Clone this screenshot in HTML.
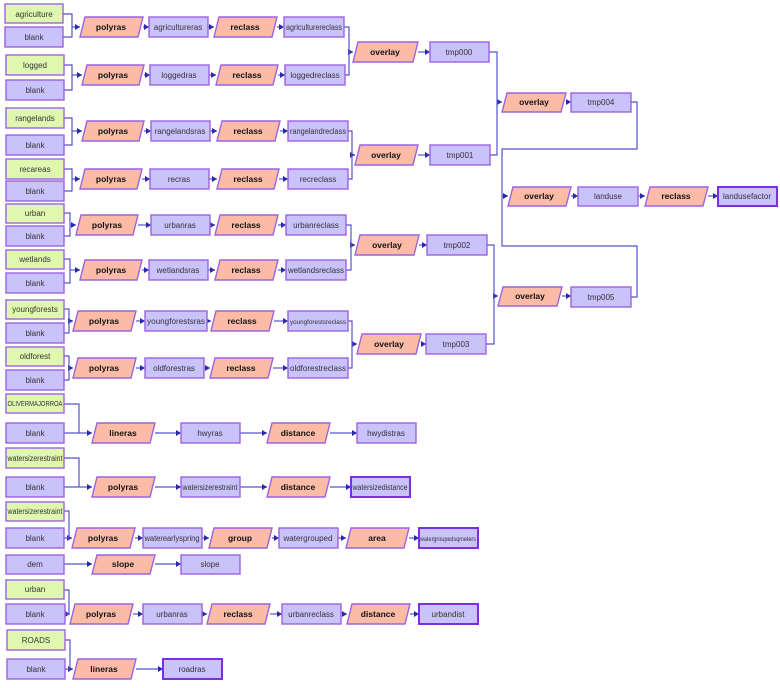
<!DOCTYPE html>
<html><head><meta charset="utf-8"><style>
html,body{margin:0;padding:0;background:#fff;width:780px;height:688px;overflow:hidden}
svg{display:block}
.g{fill:#e0f7b0;stroke:#9b63e0;stroke-width:1.4}
.d{fill:#c9c2fb;stroke:#9b63e0;stroke-width:1.4}
.o{fill:#c9c2fb;stroke:#7a2fe0;stroke-width:2}
.t{fill:#fbbba6;stroke:#9b63e0;stroke-width:1.4}
.l{fill:none;stroke:#5555c8;stroke-width:1.2}
text{font-family:"Liberation Sans",sans-serif;font-size:8px;fill:#333;text-anchor:middle}
text.b{font-weight:bold;font-size:8.5px;fill:#111}
</style></head><body>
<svg width="780" height="688" viewBox="0 0 780 688" xmlns="http://www.w3.org/2000/svg">
<defs><marker id="a" markerWidth="6" markerHeight="6" refX="5" refY="3" orient="auto" markerUnits="userSpaceOnUse"><path d="M0,0 L5,3 L0,6 z" fill="#2a2aa8"/></marker></defs>
<g class="l" marker-end="url(#a)" style="fill:none;stroke:#5555c8;stroke-width:1.2">
<!-- row1 -->
<path d="M72 27 H80"/><path d="M143 27 H149"/><path d="M208 27 H214"/><path d="M277 27 H284"/>
<path d="M72 75 H82"/><path d="M144 75 H150"/><path d="M209 75 H216"/><path d="M278 75 H285"/>
<path d="M72 131 H82"/><path d="M144 131 H151"/><path d="M210 131 H217"/><path d="M280 131 H288"/>
<path d="M72 179 H80"/><path d="M142 179 H150"/><path d="M209 179 H217"/><path d="M279 179 H288"/>
<path d="M70 225 H76"/><path d="M138 225 H151"/><path d="M210 225 H215"/><path d="M278 225 H286"/>
<path d="M70 270 H80"/><path d="M142 270 H149"/><path d="M208 270 H215"/><path d="M278 270 H286"/>
<path d="M69 321 H73"/><path d="M136 321 H145"/><path d="M209 321 H211"/><path d="M274 321 H288"/>
<path d="M69 368 H73"/><path d="M136 368 H145"/><path d="M204 368 H210"/><path d="M273 368 H288"/>
<path d="M349 52 H353"/><path d="M418 52 H430"/>
<path d="M352 155 H355"/><path d="M418 155 H430"/>
<path d="M351 245 H355"/><path d="M419 245 H427"/>
<path d="M352 344 H357"/><path d="M421 344 H426"/>
<path d="M497 102 H502"/><path d="M566 102 H571"/>
<path d="M494 296 H498"/><path d="M562 296 H571"/>
<path d="M502 196 H508"/><path d="M571 196 H578"/><path d="M638 196 H645"/><path d="M708 196 H718"/>
<!-- bottom -->
<path d="M64 433 H92"/><path d="M155 433 H181"/><path d="M240 433 H267"/><path d="M330 433 H357"/>
<path d="M64 487 H92"/><path d="M155 487 H181"/><path d="M240 487 H267"/><path d="M330 487 H351"/>
<path d="M69 538 H72"/><path d="M135 538 H143"/><path d="M202 538 H209"/><path d="M272 538 H279"/><path d="M338 538 H346"/><path d="M409 538 H419"/>
<path d="M64 564 H92"/><path d="M155 564 H181"/>
<path d="M69 614 H70"/><path d="M133 614 H143"/><path d="M202 614 H207"/><path d="M270 614 H282"/><path d="M341 614 H347"/><path d="M410 614 H419"/>
<path d="M70 669 H73"/><path d="M136 669 H163"/>
</g>
<g style="fill:none;stroke:#5555c8;stroke-width:1.2">
<path d="M63 14 H72 V37 H63"/>
<path d="M63 65 H72 V90 H63"/>
<path d="M63 118 H72 V145 H63"/>
<path d="M63 169 H72 V191 H63"/>
<path d="M63 213 H70 V236 H63"/>
<path d="M63 259 H70 V283 H63"/>
<path d="M63 309 H69 V333 H63"/>
<path d="M63 356 H69 V380 H63"/>
<path d="M344 27 H349 V75 H345"/>
<path d="M348 131 H352 V179 H348"/>
<path d="M346 225 H351 V270 H346"/>
<path d="M348 321 H352 V368 H348"/>
<path d="M489 52 H497 V155 H490"/>
<path d="M487 245 H494 V344 H486"/>
<path d="M631 102 H637 V149 H502 V246 H637 V297 H631"/>
<path d="M64 404 H79 V433"/>
<path d="M64 458 H79 V487"/>
<path d="M64 511 H69 V538 H64"/>
<path d="M64 590 H69 V614 H64"/>
<path d="M65 640 H70 V669 H65"/>
</g>

<!-- input boxes -->
<rect class="g" x="5" y="4" width="58" height="19"/><text x="34" y="17">agriculture</text>
<rect class="d" x="5" y="27" width="58" height="20"/><text x="34" y="40">blank</text>
<rect class="g" x="6" y="55" width="58" height="20"/><text x="35" y="68">logged</text>
<rect class="d" x="6" y="80" width="58" height="20"/><text x="35" y="93">blank</text>
<rect class="g" x="6" y="108" width="58" height="20"/><text x="35" y="121">rangelands</text>
<rect class="d" x="6" y="135" width="58" height="20"/><text x="35" y="148">blank</text>
<rect class="g" x="6" y="159" width="58" height="20"/><text x="35" y="172">recareas</text>
<rect class="d" x="6" y="181" width="58" height="20"/><text x="35" y="194">blank</text>
<rect class="g" x="6" y="204" width="58" height="19"/><text x="35" y="216">urban</text>
<rect class="d" x="6" y="226" width="58" height="20"/><text x="35" y="239">blank</text>
<rect class="g" x="6" y="250" width="58" height="19"/><text x="35" y="262">wetlands</text>
<rect class="d" x="6" y="273" width="58" height="20"/><text x="35" y="286">blank</text>
<rect class="g" x="6" y="300" width="58" height="19"/><text x="35" y="312">youngforests</text>
<rect class="d" x="6" y="323" width="58" height="20"/><text x="35" y="336">blank</text>
<rect class="g" x="6" y="347" width="58" height="19"/><text x="35" y="359">oldforest</text>
<rect class="d" x="6" y="370" width="58" height="20"/><text x="35" y="383">blank</text>

<!-- chains -->
<g>
<polygon class="t" points="85,17 143,17 138,37 80,37"/><text class="b" x="111" y="30">polyras</text>
<rect class="d" x="149" y="17" width="59" height="20"/><text x="178" y="30">agricultureras</text>
<polygon class="t" points="219,17 277,17 272,37 214,37"/><text class="b" x="245" y="30">reclass</text>
<rect class="d" x="284" y="17" width="60" height="20"/><text x="314" y="30" textLength="56" lengthAdjust="spacingAndGlyphs">agriculturereclass</text>

<polygon class="t" points="87,65 144,65 139,85 82,85"/><text class="b" x="113" y="78">polyras</text>
<rect class="d" x="150" y="65" width="59" height="20"/><text x="179" y="78">loggedras</text>
<polygon class="t" points="221,65 278,65 273,85 216,85"/><text class="b" x="247" y="78">reclass</text>
<rect class="d" x="285" y="65" width="60" height="20"/><text x="315" y="78">loggedreclass</text>

<polygon class="t" points="87,121 144,121 139,141 82,141"/><text class="b" x="113" y="134">polyras</text>
<rect class="d" x="151" y="121" width="59" height="20"/><text x="180" y="134">rangelandsras</text>
<polygon class="t" points="222,121 280,121 275,141 217,141"/><text class="b" x="248" y="134">reclass</text>
<rect class="d" x="288" y="121" width="60" height="20"/><text x="318" y="134" textLength="56" lengthAdjust="spacingAndGlyphs">rangelandreclass</text>

<polygon class="t" points="85,169 142,169 137,189 80,189"/><text class="b" x="111" y="182">polyras</text>
<rect class="d" x="150" y="169" width="59" height="20"/><text x="179" y="182">recras</text>
<polygon class="t" points="222,169 279,169 274,189 217,189"/><text class="b" x="248" y="182">reclass</text>
<rect class="d" x="288" y="169" width="60" height="20"/><text x="318" y="182">recreclass</text>

<polygon class="t" points="81,215 138,215 133,235 76,235"/><text class="b" x="107" y="228">polyras</text>
<rect class="d" x="151" y="215" width="59" height="20"/><text x="180" y="228">urbanras</text>
<polygon class="t" points="220,215 278,215 273,235 215,235"/><text class="b" x="246" y="228">reclass</text>
<rect class="d" x="286" y="215" width="60" height="20"/><text x="316" y="228">urbanreclass</text>

<polygon class="t" points="85,260 142,260 137,280 80,280"/><text class="b" x="111" y="273">polyras</text>
<rect class="d" x="149" y="260" width="59" height="20"/><text x="178" y="273">wetlandsras</text>
<polygon class="t" points="220,260 278,260 273,280 215,280"/><text class="b" x="246" y="273">reclass</text>
<rect class="d" x="286" y="260" width="60" height="20"/><text x="316" y="273" textLength="56" lengthAdjust="spacingAndGlyphs">wetlandsreclass</text>

<polygon class="t" points="78,311 136,311 131,331 73,331"/><text class="b" x="104" y="324">polyras</text>
<rect class="d" x="145" y="311" width="62" height="20"/><text x="176" y="324" textLength="58" lengthAdjust="spacingAndGlyphs">youngforestsras</text>
<polygon class="t" points="216,311 274,311 269,331 211,331"/><text class="b" x="242" y="324">reclass</text>
<rect class="d" x="288" y="311" width="60" height="20"/><text x="318" y="324" style="font-size:6.5px" textLength="56" lengthAdjust="spacingAndGlyphs">youngforestsreclass</text>

<polygon class="t" points="78,358 136,358 131,378 73,378"/><text class="b" x="104" y="371">polyras</text>
<rect class="d" x="145" y="358" width="59" height="20"/><text x="174" y="371">oldforestras</text>
<polygon class="t" points="215,358 273,358 268,378 210,378"/><text class="b" x="241" y="371">reclass</text>
<rect class="d" x="288" y="358" width="60" height="20"/><text x="318" y="371" textLength="56" lengthAdjust="spacingAndGlyphs">oldforestreclass</text>

<!-- overlays -->
<polygon class="t" points="358,42 418,42 413,62 353,62"/><text class="b" x="385" y="55">overlay</text>
<rect class="d" x="430" y="42" width="59" height="20"/><text x="459" y="55">tmp000</text>
<polygon class="t" points="360,145 418,145 413,165 355,165"/><text class="b" x="386" y="158">overlay</text>
<rect class="d" x="430" y="145" width="60" height="20"/><text x="460" y="158">tmp001</text>
<polygon class="t" points="360,235 419,235 414,255 355,255"/><text class="b" x="387" y="248">overlay</text>
<rect class="d" x="427" y="235" width="60" height="20"/><text x="457" y="248">tmp002</text>
<polygon class="t" points="362,334 421,334 416,354 357,354"/><text class="b" x="389" y="347">overlay</text>
<rect class="d" x="426" y="334" width="60" height="20"/><text x="456" y="347">tmp003</text>
<polygon class="t" points="507,93 566,93 561,112 502,112"/><text class="b" x="534" y="105">overlay</text>
<rect class="d" x="571" y="93" width="60" height="19"/><text x="601" y="105">tmp004</text>
<polygon class="t" points="503,287 562,287 557,306 498,306"/><text class="b" x="530" y="299">overlay</text>
<rect class="d" x="571" y="287" width="60" height="20"/><text x="601" y="300">tmp005</text>
<polygon class="t" points="513,187 571,187 566,206 508,206"/><text class="b" x="539" y="199">overlay</text>
<rect class="d" x="578" y="187" width="60" height="19"/><text x="608" y="199">landuse</text>
<polygon class="t" points="650,187 708,187 703,206 645,206"/><text class="b" x="676" y="199">reclass</text>
<rect class="o" x="718" y="187" width="59" height="19"/><text x="747" y="199">landusefactor</text>
</g>

<!-- bottom section -->
<rect class="g" x="6" y="394" width="58" height="19"/><text x="35" y="406" style="font-size:7px" textLength="55" lengthAdjust="spacingAndGlyphs">OLIVERMAJORROA</text>
<rect class="d" x="6" y="423" width="58" height="20"/><text x="35" y="436">blank</text>
<polygon class="t" points="97,423 155,423 150,443 92,443"/><text class="b" x="123" y="436">lineras</text>
<rect class="d" x="181" y="423" width="59" height="20"/><text x="210" y="436">hwyras</text>
<polygon class="t" points="272,423 330,423 325,443 267,443"/><text class="b" x="298" y="436">distance</text>
<rect class="d" x="357" y="423" width="59" height="20"/><text x="386" y="436">hwydistras</text>

<rect class="g" x="6" y="448" width="58" height="20"/><text x="35" y="461" textLength="55" lengthAdjust="spacingAndGlyphs">watersizerestraint</text>
<rect class="d" x="6" y="477" width="58" height="20"/><text x="35" y="490">blank</text>
<polygon class="t" points="97,477 155,477 150,497 92,497"/><text class="b" x="123" y="490">polyras</text>
<rect class="d" x="181" y="477" width="59" height="20"/><text x="210" y="490" textLength="55" lengthAdjust="spacingAndGlyphs">watersizerestraint</text>
<polygon class="t" points="272,477 330,477 325,497 267,497"/><text class="b" x="298" y="490">distance</text>
<rect class="o" x="351" y="477" width="59" height="20"/><text x="380" y="490" textLength="55" lengthAdjust="spacingAndGlyphs">watersizedistance</text>

<rect class="g" x="6" y="502" width="58" height="19"/><text x="35" y="514" textLength="55" lengthAdjust="spacingAndGlyphs">watersizerestraint</text>
<rect class="d" x="6" y="528" width="58" height="20"/><text x="35" y="541">blank</text>
<polygon class="t" points="77,528 135,528 130,548 72,548"/><text class="b" x="103" y="541">polyras</text>
<rect class="d" x="143" y="528" width="59" height="20"/><text x="172" y="541" textLength="55" lengthAdjust="spacingAndGlyphs">waterearlyspring</text>
<polygon class="t" points="214,528 272,528 267,548 209,548"/><text class="b" x="240" y="541">group</text>
<rect class="d" x="279" y="528" width="59" height="20"/><text x="308" y="541">watergrouped</text>
<polygon class="t" points="351,528 409,528 404,548 346,548"/><text class="b" x="377" y="541">area</text>
<rect class="o" x="419" y="528" width="59" height="20"/><text x="448" y="541" style="font-size:6px" textLength="56" lengthAdjust="spacingAndGlyphs">watergroupedsqmeters</text>

<rect class="d" x="6" y="555" width="58" height="19"/><text x="35" y="567">dem</text>
<polygon class="t" points="97,555 155,555 150,574 92,574"/><text class="b" x="123" y="567">slope</text>
<rect class="d" x="181" y="555" width="59" height="19"/><text x="210" y="567">slope</text>

<rect class="g" x="6" y="580" width="58" height="19"/><text x="35" y="592">urban</text>
<rect class="d" x="6" y="604" width="59" height="20"/><text x="35" y="617">blank</text>
<polygon class="t" points="75,604 133,604 128,624 70,624"/><text class="b" x="101" y="617">polyras</text>
<rect class="d" x="143" y="604" width="59" height="20"/><text x="172" y="617">urbanras</text>
<polygon class="t" points="212,604 270,604 265,624 207,624"/><text class="b" x="238" y="617">reclass</text>
<rect class="d" x="282" y="604" width="59" height="20"/><text x="311" y="617">urbanreclass</text>
<polygon class="t" points="352,604 410,604 405,624 347,624"/><text class="b" x="378" y="617">distance</text>
<rect class="o" x="419" y="604" width="59" height="20"/><text x="448" y="617">urbandist</text>

<rect class="g" x="7" y="630" width="58" height="20"/><text x="36" y="643">ROADS</text>
<rect class="d" x="7" y="659" width="58" height="20"/><text x="36" y="672">blank</text>
<polygon class="t" points="78,659 136,659 131,679 73,679"/><text class="b" x="104" y="672">lineras</text>
<rect class="o" x="163" y="659" width="59" height="20"/><text x="192" y="672">roadras</text>
</svg>
</body></html>
